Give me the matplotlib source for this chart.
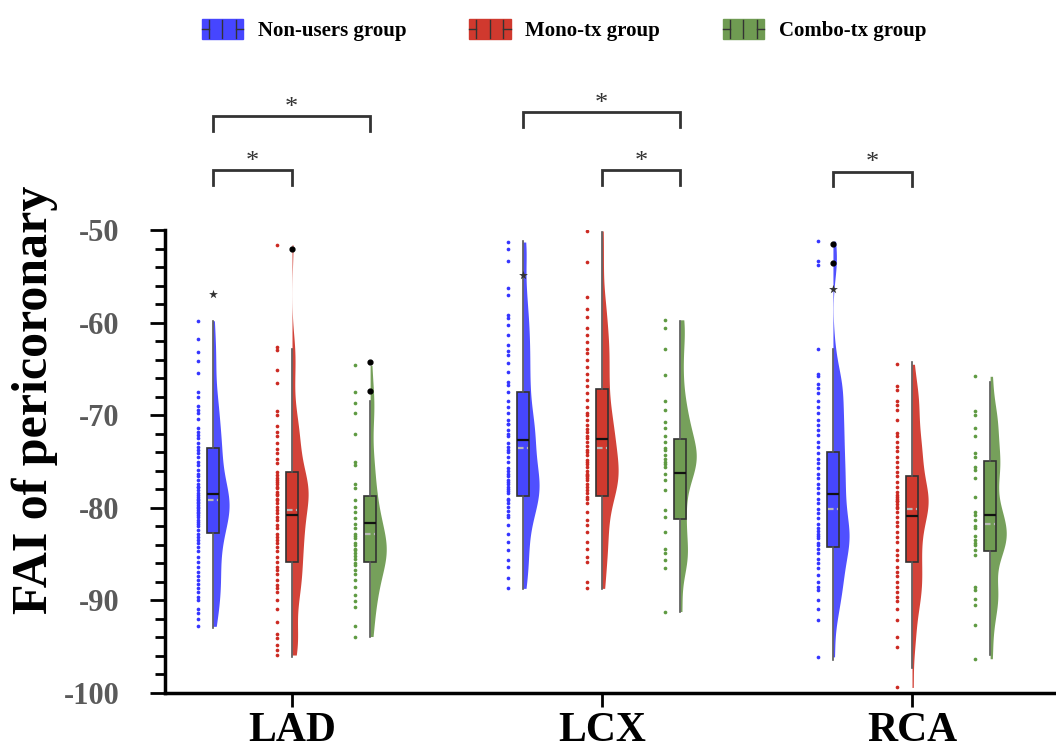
import numpy as np
import matplotlib
matplotlib.use("Agg")
import matplotlib.pyplot as plt
from matplotlib.patches import Rectangle
from matplotlib.lines import Line2D
from matplotlib.legend_handler import HandlerBase

plt.rcParams['font.family'] = ['Liberation Serif', 'DejaVu Serif']
plt.rcParams['font.weight'] = 'bold'
plt.rcParams['axes.unicode_minus'] = False

categories = ["LAD", "LCX", "RCA"]
groups = ["Non-users group", "Mono-tx group", "Combo-tx group"]
colors = ["#4646ff", "#d0392e", "#6f9b52"]
dot_colors = ["#3535ff", "#cc2a22", "#5f9a42"]

# raw points (FAI, HU); overlapping points in dense parts repeated
lad_nonuser = [-59.8, -61.8, -63.2, -64.2, -65.4, -67.5, -68.0, -69.0, -69.4, -69.8, -70.4, -71.4,
               -71.8, -72.1, -72.5, -73.0, -73.4, -73.8, -74.1, -74.5, -75.0, -75.4, -75.9, -76.3,
               -76.6, -77.0, -77.4, -77.7, -77.8, -78.1, -78.4, -78.6, -78.8, -79.0, -79.2, -79.4,
               -79.5, -79.7, -79.9, -80.0, -80.2, -80.4, -80.6, -80.8, -81.0, -81.3, -81.5, -81.7,
               -82.0, -82.4, -82.8, -83.1, -83.5, -83.8, -84.2, -84.7, -85.3, -85.8, -86.4, -86.9,
               -87.4, -87.8, -88.2, -88.7, -89.1, -89.6, -90.0, -90.9, -91.4, -92.0, -92.8]
lad_mono = [-51.6, -62.6, -63.0, -65.1, -66.5, -69.6, -70.0, -71.2, -71.8, -72.3, -73.0, -73.6,
            -74.1, -74.7, -75.2, -76.1, -76.5, -76.8, -77.0, -77.2, -77.4, -77.7, -77.9, -78.3,
            -78.5, -78.6, -79.0, -79.2, -79.5, -79.9, -80.2, -80.6, -81.0, -81.3, -81.9, -82.2,
            -82.8, -83.1, -83.5, -83.8, -84.2, -84.7, -85.3, -85.8, -86.4, -86.7, -87.1, -87.8,
            -88.3, -88.7, -89.1, -90.0, -90.9, -92.3, -93.6, -94.1, -94.8, -95.4, -95.9]
lad_combo = [-64.6, -67.5, -68.7, -69.8, -72.0, -75.0, -75.4, -77.4, -77.9, -79.2, -79.9, -80.4,
             -81.1, -81.7, -82.2, -82.8, -83.0, -83.3, -83.8, -84.0, -84.4, -84.6, -84.9, -85.2,
             -85.5, -86.0, -86.2, -86.7, -87.1, -87.8, -88.5, -89.4, -90.1, -90.7, -92.8, -93.9]
lcx_nonuser = [-51.3, -52.0, -53.4, -56.3, -57.0, -59.2, -59.5, -60.3, -61.3, -62.4, -63.1, -63.5,
               -64.4, -65.3, -66.4, -66.7, -67.5, -68.5, -69.1, -69.8, -70.5, -70.9, -71.0, -71.6,
               -72.0, -72.3, -73.0, -73.4, -73.8, -74.0, -74.5, -75.0, -75.7, -76.0, -76.3, -76.6,
               -77.0, -77.2, -77.4, -77.7, -78.0, -78.2, -78.4, -79.0, -79.2, -79.5, -79.9, -80.3,
               -80.8, -81.0, -81.9, -82.8, -83.7, -84.6, -85.6, -86.4, -87.6, -88.7]
lcx_mono = [-50.1, -53.5, -57.2, -58.5, -59.4, -60.6, -61.3, -62.1, -62.8, -63.3, -64.0, -64.8,
            -65.5, -66.2, -66.9, -67.6, -68.4, -69.1, -69.8, -70.0, -70.5, -71.1, -71.5, -71.8,
            -72.3, -72.5, -72.9, -73.3, -73.8, -74.0, -74.3, -74.8, -75.0, -75.3, -75.6, -76.0,
            -76.3, -76.5, -76.6, -76.8, -77.0, -77.4, -77.7, -78.1, -78.4, -78.8, -79.0, -79.5,
            -80.4, -81.3, -81.9, -82.6, -83.7, -84.4, -85.3, -85.8, -88.0, -88.7]
lcx_combo = [-59.7, -60.6, -62.8, -65.7, -68.5, -69.4, -70.7, -71.4, -72.3, -72.9, -73.5, -73.8,
             -74.3, -74.7, -75.0, -75.3, -75.6, -76.3, -77.0, -78.1, -80.2, -81.0, -82.6, -84.4,
             -84.9, -85.6, -86.5, -91.2]
rca_nonuser = [-51.2, -53.4, -53.8, -62.8, -65.5, -65.8, -66.6, -67.1, -67.6, -68.5, -69.1, -69.8,
               -70.5, -71.1, -71.6, -72.1, -72.9, -73.4, -74.1, -74.7, -75.2, -75.7, -76.3, -76.8,
               -77.4, -77.9, -78.4, -79.0, -79.5, -80.1, -80.6, -81.1, -81.7, -82.2, -82.5, -82.8,
               -83.0, -83.3, -83.8, -84.0, -84.4, -84.9, -85.5, -86.0, -86.5, -87.3, -88.0, -88.5,
               -88.9, -90.0, -90.9, -92.1, -96.1]
rca_mono = [-64.5, -66.9, -67.3, -68.5, -68.9, -69.4, -70.5, -71.9, -72.3, -72.9, -73.4, -73.9,
            -74.5, -75.0, -75.6, -76.1, -76.6, -77.2, -77.7, -78.3, -78.6, -78.8, -79.0, -79.3,
            -79.3, -79.6, -79.9, -80.0, -80.4, -81.0, -81.5, -82.0, -82.6, -83.1, -83.7, -84.6,
            -85.1, -85.6, -86.4, -86.9, -87.4, -88.0, -88.5, -89.1, -89.6, -90.1, -90.9, -92.1,
            -93.9, -95.0, -99.4]
rca_combo = [-65.8, -69.6, -70.0, -71.4, -72.3, -74.1, -74.5, -75.6, -75.9, -76.8, -78.8, -80.4,
             -80.8, -81.3, -82.0, -82.2, -83.0, -83.5, -83.8, -84.0, -84.6, -85.1, -88.5, -88.9,
             -89.8, -90.5, -92.7, -96.3]

points = [[lad_nonuser, lad_mono, lad_combo],
          [lcx_nonuser, lcx_mono, lcx_combo],
          [rca_nonuser, rca_mono, rca_combo]]

# box statistics per category (rows) and group (cols)
q1 = [[-82.7, -85.9, -85.9], [-78.7, -78.7, -81.2], [-84.2, -85.9, -84.7]]
med = [[-78.5, -80.8, -81.6], [-72.7, -72.6, -76.2], [-78.5, -80.9, -80.8]]
q3 = [[-73.5, -76.1, -78.7], [-67.5, -67.2, -72.6], [-74.0, -76.6, -74.9]]
whislo = [[-93.0, -96.1, -94.0], [-88.8, -88.8, -91.3], [-96.4, -97.3, -95.9]]
whishi = [[-59.8, -62.8, -68.5], [-51.2, -50.2, -59.8], [-62.8, -64.3, -66.4]]
means = [[-79.2, -80.2, -82.8], [-73.5, -73.5, np.nan], [-80.1, -80.1, -81.7]]
outlier_dots = [[[], [-52.1], [-64.3, -67.4]], [[], [], []], [[-51.5, -53.6], [], []]]
outlier_stars = [[[-56.9], [], []], [[-54.9], [], []], [[-56.4], [], []]]

# significance brackets: (category, group a, group b, height)
brackets = [(0, 0, 2, -37.7), (0, 0, 1, -43.5), (1, 0, 2, -37.3), (1, 1, 2, -43.5), (2, 0, 1, -43.7)]

offsets = [-0.255, 0.0, 0.252]
box_w = 0.039
vio_w = 0.052
strip_dx = -0.048


def kde(vals, grid, bw=2.0):
    v = np.asarray(vals)[:, None]
    return np.exp(-0.5 * ((grid[None, :] - v) / bw) ** 2).sum(0)


class BoxHandler(HandlerBase):
    def create_artists(self, legend, orig_handle, xdescent, ydescent, width, height, fontsize, trans):
        c = orig_handle.get_facecolor()
        x0, y0 = -xdescent, -ydescent
        arts = [Rectangle((x0, y0), width, height, facecolor=c, edgecolor=c, transform=trans)]
        for fx in (0.18, 0.5, 0.82):
            arts.append(Line2D([x0 + fx * width] * 2, [y0 + 0.06 * height, y0 + 0.94 * height],
                               color="#333333", lw=1.0, transform=trans))
        for a, b in ((0.0, 0.18), (0.82, 1.0)):
            arts.append(Line2D([x0 + a * width, x0 + b * width], [y0 + height / 2] * 2,
                               color="#333333", lw=1.0, transform=trans))
        return arts


fig = plt.figure(figsize=(10.56, 7.56), dpi=100)
ax = fig.add_axes([165 / 1056, 63 / 756, 891 / 1056, 463 / 756])

for ci in range(3):
    for g in range(3):
        pos = ci + offsets[g]
        vals = np.array(points[ci][g])
        # half violin
        grid = np.linspace(vals.min(), vals.max(), 300)
        d = kde(vals, grid)
        ax.fill_betweenx(grid, pos, pos + d / d.max() * vio_w, color=colors[g], alpha=0.95,
                         lw=0, zorder=2)
        # strip of points
        ax.scatter(np.full(len(vals), pos + strip_dx), vals, s=7, color=dot_colors[g],
                   lw=0, zorder=3)
        # box
        st = dict(q1=q1[ci][g], med=med[ci][g], q3=q3[ci][g], whislo=whislo[ci][g],
                  whishi=whishi[ci][g], fliers=[])
        ax.bxp([st], positions=[pos], widths=box_w, patch_artist=True, showcaps=False,
               showfliers=False, manage_ticks=False,
               boxprops=dict(facecolor=colors[g], edgecolor="#333333", lw=1.2),
               whiskerprops=dict(color="#555555", lw=1.2),
               medianprops=dict(color="#111111", lw=1.6), zorder=4)
        if not np.isnan(means[ci][g]):
            ax.hlines(means[ci][g], pos - box_w / 2 + 0.004, pos + box_w / 2 - 0.004,
                      colors="#b8b8b8", linestyles=(0, (2.5, 1.5)), lw=1.6, zorder=5)
        if outlier_dots[ci][g]:
            ax.scatter([pos] * len(outlier_dots[ci][g]), outlier_dots[ci][g], s=12,
                       color="black", zorder=6)
        if outlier_stars[ci][g]:
            ax.scatter([pos] * len(outlier_stars[ci][g]), outlier_stars[ci][g], s=45,
                       marker="*", color="#333333", lw=0, zorder=6)

for ci, a, b, h in brackets:
    x1, x2 = ci + offsets[a], ci + offsets[b]
    ax.plot([x1, x1, x2, x2], [h - 1.6, h, h, h - 1.6], color="#333333", lw=2,
            clip_on=False, solid_joinstyle="miter")
    ax.text((x1 + x2) / 2, h - 0.3, "*", ha="center", va="bottom", fontsize=19,
            color="#333333", fontweight="normal", clip_on=False)

ax.set_xlim((165 - 292) / 310, (1056 - 292) / 310)
ax.set_ylim(-100, -50)
ax.set_xticks(range(3))
ax.set_xticklabels(categories, fontsize=30, fontweight="bold")
ax.set_yticks(np.arange(-100, -49, 10))
ax.set_yticks(np.arange(-100, -49, 2), minor=True)
ax.tick_params(axis="y", which="major", length=11, width=2, labelsize=22, labelcolor="#5a5a5a",
               pad=22)
ax.tick_params(axis="y", which="minor", length=7, width=2)
ax.tick_params(axis="x", length=10, width=2, pad=4)
for s in ("top", "right"):
    ax.spines[s].set_visible(False)
for s in ("left", "bottom"):
    ax.spines[s].set_linewidth(2.5)

fig.text(35 / 1056, 1 - 400 / 756, "FAI of pericoronary", rotation=90, ha="center", va="center",
         fontsize=36, fontweight="bold")

handles = [Rectangle((0, 0), 1, 1, facecolor=c) for c in colors]
fig.legend(handles, groups, handler_map={Rectangle: BoxHandler()}, loc="upper center",
           bbox_to_anchor=(0.534, 1.0), ncol=3, frameon=False, prop=dict(size=15, weight="bold"),
           handlelength=2.0, handleheight=1.1, handletextpad=0.7, columnspacing=3.0)

fig.savefig("out.png", dpi=100)
